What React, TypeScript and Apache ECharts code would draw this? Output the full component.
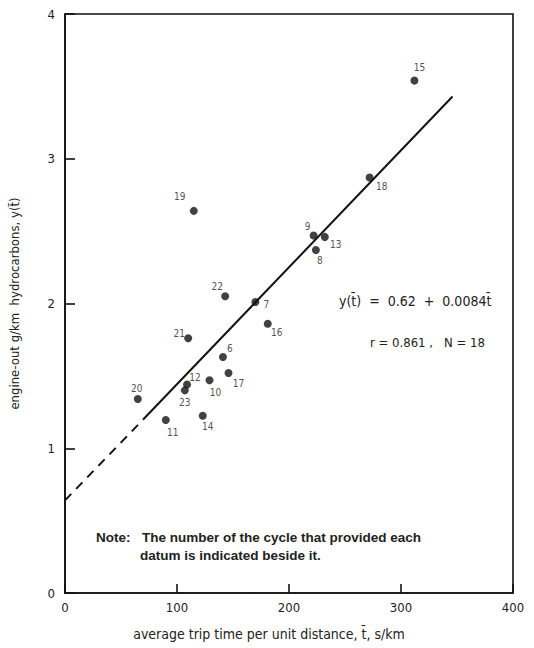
import React, { useEffect, useRef } from "react";
import * as echarts from "echarts";

// cycle numbers and their data (average trip time s/km, engine-out HC g/km)
const cycles = ["15", "18", "19", "9", "13", "8", "22", "7", "16", "21", "6", "17", "10", "12", "23", "20", "11", "14"];
const tripTime = [312, 272, 115, 222, 232, 224, 143, 170, 181, 110, 141, 146, 129, 109, 107, 65, 90, 123];
const hcValues = [3.54, 2.87, 2.64, 2.47, 2.46, 2.37, 2.05, 2.01, 1.86, 1.76, 1.63, 1.52, 1.47, 1.44, 1.40, 1.34, 1.195, 1.225];
// label offsets (px) relative to each point
const labelOffsets: [number, number][] = [
  [5, -13], [12, 9], [-14, -14], [-6, -9], [11, 8], [4, 11], [-8, -10], [11, 2], [9, 9],
  [-9, -5], [7, -9], [10, 11], [6, 12], [8, -7], [0, 12], [-1, -11], [7, 12], [5, 11],
];
// fitted line as drawn
const dashedLine = [[0, 0.64], [70, 1.2]];
const solidLine = [[70, 1.2], [346, 3.43]];

const xTicks = [0, 100, 200, 300, 400];
const yTicks = [0, 1, 2, 3, 4];

const FONT = "'DejaVu Sans Condensed', 'Liberation Sans Narrow', 'DejaVu Sans', sans-serif";
const NOTE_FONT = "bold 13.5px 'Liberation Sans', Arial, sans-serif";

export default function App() {
  const ref = useRef<HTMLDivElement>(null);
  useEffect(() => {
    const chart = echarts.init(ref.current!, null, { renderer: "svg" });
    chart.setOption({
      animation: false,
      backgroundColor: "#fff",
      grid: { left: 60, right: 21, top: 14, bottom: 55, show: true, borderColor: "#111", borderWidth: 1.6 },
      xAxis: {
        type: "value",
        min: xTicks[0],
        max: xTicks[xTicks.length - 1],
        interval: 100,
        name: "average trip time per unit distance, t\u0304, s/km",
        nameLocation: "middle",
        nameGap: 34,
        nameTextStyle: { fontFamily: FONT, fontSize: 14, color: "#222", padding: [0, 40, 0, 0] },
        axisLine: { lineStyle: { color: "#111", width: 1.6 } },
        axisTick: { inside: true, length: 9, lineStyle: { color: "#111", width: 1.6 } },
        axisLabel: { fontFamily: FONT, fontSize: 13, color: "#222", margin: 8 },
        splitLine: { show: false },
      },
      yAxis: {
        type: "value",
        min: yTicks[0],
        max: yTicks[yTicks.length - 1],
        interval: 1,
        name: "engine-out g/km  hydrocarbons, y(t\u0304)",
        nameLocation: "middle",
        nameGap: 44,
        nameTextStyle: { fontFamily: FONT, fontSize: 13, color: "#222" },
        axisLine: { lineStyle: { color: "#111", width: 1.6 } },
        axisTick: { inside: true, length: 10, lineStyle: { color: "#111", width: 1.6 } },
        axisLabel: { fontFamily: FONT, fontSize: 13, color: "#222", margin: 10 },
        splitLine: { show: false },
      },
      series: [
        {
          type: "line",
          data: dashedLine,
          showSymbol: false,
          lineStyle: { color: "#111", width: 2, type: [9, 7] },
          z: 2,
        },
        {
          type: "line",
          data: solidLine,
          showSymbol: false,
          lineStyle: { color: "#111", width: 2 },
          z: 2,
        },
        {
          type: "scatter",
          symbolSize: 8,
          itemStyle: { color: "#111" },
          z: 3,
          data: cycles.map((c, i) => ({
            value: [tripTime[i], hcValues[i]],
            label: {
              show: true,
              formatter: c,
              position: "inside",
              offset: labelOffsets[i],
              fontFamily: FONT,
              fontSize: 10,
              color: "#222",
            },
          })),
        },
      ],
      graphic: [
        {
          type: "text",
          left: 339,
          top: 294,
          style: { text: "y(t\u0304)  =  0.62  +  0.0084t\u0304", font: `14px ${FONT}`, fill: "#222" },
        },
        {
          type: "text",
          left: 370,
          top: 336,
          style: { text: "r = 0.861 ,   N = 18", font: `13px ${FONT}`, fill: "#222" },
        },
        {
          type: "text",
          left: 96,
          top: 530,
          style: { text: "Note:", font: NOTE_FONT, fill: "#222" },
        },
        {
          type: "text",
          left: 142,
          top: 530,
          style: { text: "The number of the cycle that provided each", font: NOTE_FONT, fill: "#222" },
        },
        {
          type: "text",
          left: 140,
          top: 548,
          style: { text: "datum is indicated beside it.", font: NOTE_FONT, fill: "#222" },
        },
      ],
    });
    return () => chart.dispose();
  }, []);
  return <div ref={ref} style={{ position: "fixed", left: 0, top: 0, width: 534, height: 648 }} />;
}
